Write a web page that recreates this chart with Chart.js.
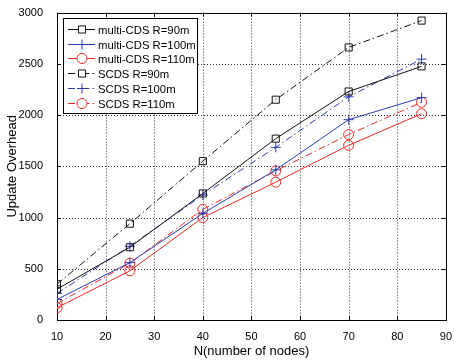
<!DOCTYPE html>
<html lang="en">
<head>
    <meta charset="UTF-8">
    <title>Update Overhead</title>
    <style>
        body { margin: 0; background: #fff; }
        canvas { display: block; }
    </style>
</head>
<body>
    <canvas id="chart" width="454" height="363"></canvas>
    <script src="https://cdn.jsdelivr.net/npm/chart.js"></script>
    <script>
        // data
        const nodes = [10, 25, 40, 55, 70, 85];
        const multiR90 = [300, 710, 1235, 1770, 2230, 2475];
        const multiR100 = [200, 560, 1040, 1465, 1955, 2170];
        const multiR110 = [120, 480, 1000, 1345, 1705, 2013];
        const scdsR90 = [350, 940, 1550, 2150, 2660, 2922];
        const scdsR100 = [260, 720, 1220, 1685, 2178, 2546];
        const scdsR110 = [160, 555, 1080, 1455, 1810, 2125];
        const xTicks = [10, 20, 30, 40, 50, 60, 70, 80, 90];
        const yTicks = [0, 500, 1000, 1500, 2000, 2500, 3000];

        const BLACK = '#111111';
        const BLUE = '#2b3db5';
        const RED = '#ea2b22';
        const dashDot = [7, 3, 1.5, 3];
        const FONT = '"Liberation Sans", Arial, sans-serif';

        function series(label, values, color, style, dashed) {
            return {
                label: label,
                data: nodes.map((n, i) => ({ x: n, y: values[i] })),
                borderColor: color,
                borderWidth: 1,
                borderDash: dashed ? dashDot : [],
                pointStyle: style,
                pointRadius: 5,
                pointHoverRadius: 5,
                pointBorderColor: color,
                pointBackgroundColor: 'rgba(0,0,0,0)',
                pointBorderWidth: 1,
                tension: 0
            };
        }

        const datasets = [
            series('multi-CDS R=90m', multiR90, BLACK, 'rect', false),
            series('multi-CDS R=100m', multiR100, BLUE, 'cross', false),
            series('multi-CDS R=110m', multiR110, RED, 'circle', false),
            series('SCDS R=90m', scdsR90, BLACK, 'rect', true),
            series('SCDS R=100m', scdsR100, BLUE, 'cross', true),
            series('SCDS R=110m', scdsR110, RED, 'circle', true)
        ];

        // dotted grid, box frame and inward ticks like the original figure
        const framePlugin = {
            id: 'frame',
            beforeDatasetsDraw(chart) {
                const { ctx, chartArea: a, scales } = chart;
                ctx.save();
                ctx.strokeStyle = '#333';
                ctx.lineWidth = 1;
                ctx.setLineDash([1, 2]);
                xTicks.forEach(v => {
                    const px = Math.round(scales.x.getPixelForValue(v)) + 0.5;
                    if (px > a.left + 1 && px < a.right - 1) {
                        ctx.beginPath(); ctx.moveTo(px, a.top); ctx.lineTo(px, a.bottom); ctx.stroke();
                    }
                });
                yTicks.forEach(v => {
                    const py = Math.round(scales.y.getPixelForValue(v)) + 0.5;
                    if (py > a.top + 1 && py < a.bottom - 1) {
                        ctx.beginPath(); ctx.moveTo(a.left, py); ctx.lineTo(a.right, py); ctx.stroke();
                    }
                });
                ctx.setLineDash([]);
                ctx.strokeStyle = '#000';
                ctx.strokeRect(Math.round(a.left) + 0.5, Math.round(a.top) + 0.5,
                    Math.round(a.right - a.left), Math.round(a.bottom - a.top));
                const t = 4;
                xTicks.forEach(v => {
                    const px = Math.round(scales.x.getPixelForValue(v)) + 0.5;
                    ctx.beginPath();
                    ctx.moveTo(px, a.bottom); ctx.lineTo(px, a.bottom - t);
                    ctx.moveTo(px, a.top); ctx.lineTo(px, a.top + t);
                    ctx.stroke();
                });
                yTicks.forEach(v => {
                    const py = Math.round(scales.y.getPixelForValue(v)) + 0.5;
                    ctx.beginPath();
                    ctx.moveTo(a.left, py); ctx.lineTo(a.left + t, py);
                    ctx.moveTo(a.right, py); ctx.lineTo(a.right - t, py);
                    ctx.stroke();
                });
                ctx.restore();
            },
            afterDraw(chart) {
                // legend box in the upper left corner of the plot
                const { ctx } = chart;
                const bx = 63.5, by = 18.5, bw = 134, bh = 95;
                ctx.save();
                ctx.fillStyle = '#fff';
                ctx.fillRect(bx, by, bw, bh);
                ctx.strokeStyle = '#000';
                ctx.lineWidth = 1;
                ctx.strokeRect(bx, by, bw, bh);
                ctx.font = '11.3px ' + FONT;
                ctx.textBaseline = 'middle';
                chart.data.datasets.forEach((ds, i) => {
                    const y = Math.round(29 + i * 14.7) + 0.5;
                    ctx.strokeStyle = ds.borderColor;
                    ctx.setLineDash(ds.borderDash);
                    ctx.beginPath(); ctx.moveTo(68, y); ctx.lineTo(95, y); ctx.stroke();
                    ctx.setLineDash([]);
                    ctx.fillStyle = '#fff';
                    Chart.helpers.drawPoint(ctx, {
                        pointStyle: ds.pointStyle, radius: 5, borderWidth: 1
                    }, 82, y);
                    ctx.fillStyle = '#000';
                    ctx.fillText(ds.label, 98, y + 1);
                });
                ctx.restore();
            }
        };

        new Chart(document.getElementById('chart'), {
            type: 'line',
            data: { datasets: datasets },
            plugins: [framePlugin],
            options: {
                responsive: false,
                animation: false,
                layout: { padding: { top: 10, right: 3, left: 3, bottom: 0 } },
                plugins: { legend: { display: false }, tooltip: { enabled: false } },
                scales: {
                    x: {
                        type: 'linear', min: 10, max: 90,
                        afterBuildTicks: s => { s.ticks = xTicks.map(v => ({ value: v })); },
                        afterFit: s => { s.height = 43; },
                        grid: { display: false },
                        border: { display: false },
                        ticks: { color: '#000', font: { size: 11, family: FONT }, padding: 2, maxRotation: 0, callback: v => String(v) },
                        title: { display: true, text: 'N(number of nodes)', color: '#000', font: { size: 13, family: FONT }, padding: { top: 0 } }
                    },
                    y: {
                        min: 0, max: 3000,
                        afterBuildTicks: s => { s.ticks = yTicks.map(v => ({ value: v })); },
                        afterFit: s => { s.width = 54; },
                        grid: { display: false },
                        border: { display: false },
                        ticks: { color: '#000', font: { size: 11, family: FONT }, padding: 6, callback: v => String(v) },
                        title: { display: true, text: 'Update Overhead', color: '#000', font: { size: 13, family: FONT }, padding: { top: 2, bottom: 2 } }
                    }
                }
            }
        });
    </script>
</body>
</html>
